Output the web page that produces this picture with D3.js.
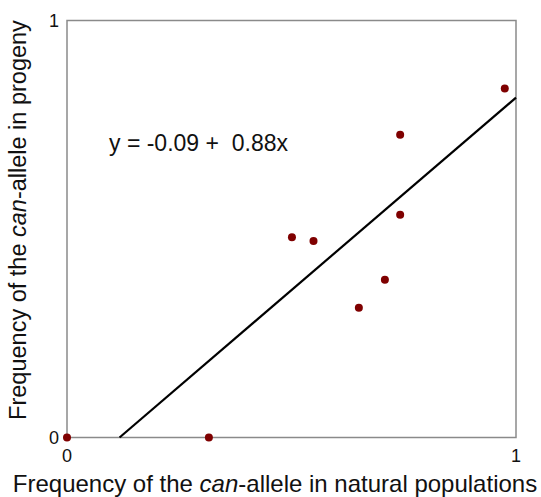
<!DOCTYPE html>
<html lang="en">
<head>
<meta charset="UTF-8">
<title>can-allele frequency</title>
<script src="https://cdn.jsdelivr.net/npm/d3@7"></script>
<style>
  body { margin: 0; background: #fff; }
  text { font-family: "Liberation Sans", Arial, sans-serif; fill: #111; white-space: pre; }
</style>
</head>
<body>
<svg id="chart" width="541" height="497"></svg>
<script>
// frequency in natural populations (x) / in progeny (y)
var natural = [0, 0.316, 0.501, 0.549, 0.650, 0.708, 0.742, 0.742, 0.975];
var progeny = [0, 0, 0.480, 0.471, 0.311, 0.378, 0.534, 0.726, 0.837];
// fitted line as drawn, end points
var fitX = [0.117, 1];
var fitY = [0, 0.815];
var xTicks = [0, 1];
var yTicks = [0, 1];
var equation = "y = -0.09 +  0.88x";

var svg = d3.select("#chart");
var padL = 67, padR = 516, padT = 20.5, padB = 437.5;

var x = d3.scaleLinear().domain([0, 1]).range([padL, padR]);
var y = d3.scaleLinear().domain([0, 1]).range([padB, padT]);

// frame
svg.append("rect")
  .attr("x", padL).attr("y", padT)
  .attr("width", padR - padL).attr("height", padB - padT)
  .attr("fill", "none").attr("stroke", "#8a8a8a").attr("stroke-width", 1.5);

// tick labels
svg.selectAll(".xt").data(xTicks).enter().append("text")
  .attr("x", function (d) { return x(d); })
  .attr("y", 462)
  .attr("text-anchor", "middle")
  .attr("font-size", 18)
  .text(function (d) { return d; });

svg.selectAll(".yt").data(yTicks).enter().append("text")
  .attr("x", 59)
  .attr("y", function (d) { return y(d) + 6; })
  .attr("text-anchor", "end")
  .attr("font-size", 18)
  .text(function (d) { return d; });

// regression line
var line = d3.line()
  .x(function (d) { return x(d[0]); })
  .y(function (d) { return y(d[1]); });
svg.append("path")
  .attr("d", line(d3.zip(fitX, fitY)))
  .attr("stroke", "#000").attr("stroke-width", 2.2).attr("fill", "none");

// points
svg.selectAll(".dot").data(d3.zip(natural, progeny)).enter().append("circle")
  .attr("cx", function (d) { return x(d[0]); })
  .attr("cy", function (d) { return y(d[1]); })
  .attr("r", 4)
  .attr("fill", "#7f0000");

// equation
svg.append("text")
  .attr("x", 109).attr("y", 151)
  .attr("font-size", 23)
  .text(equation);

// axis titles
var xt = svg.append("text")
  .attr("x", 275).attr("y", 492)
  .attr("text-anchor", "middle")
  .attr("font-size", 24);
xt.append("tspan").text("Frequency of the ");
xt.append("tspan").attr("font-style", "italic").text("can");
xt.append("tspan").text("-allele in natural populations");

var yt = svg.append("text")
  .attr("transform", "translate(26,220) rotate(-90)")
  .attr("text-anchor", "middle")
  .attr("font-size", 23.5);
yt.append("tspan").text("Frequency of the ");
yt.append("tspan").attr("font-style", "italic").text("can");
yt.append("tspan").text("-allele in progeny");
</script>
</body>
</html>
